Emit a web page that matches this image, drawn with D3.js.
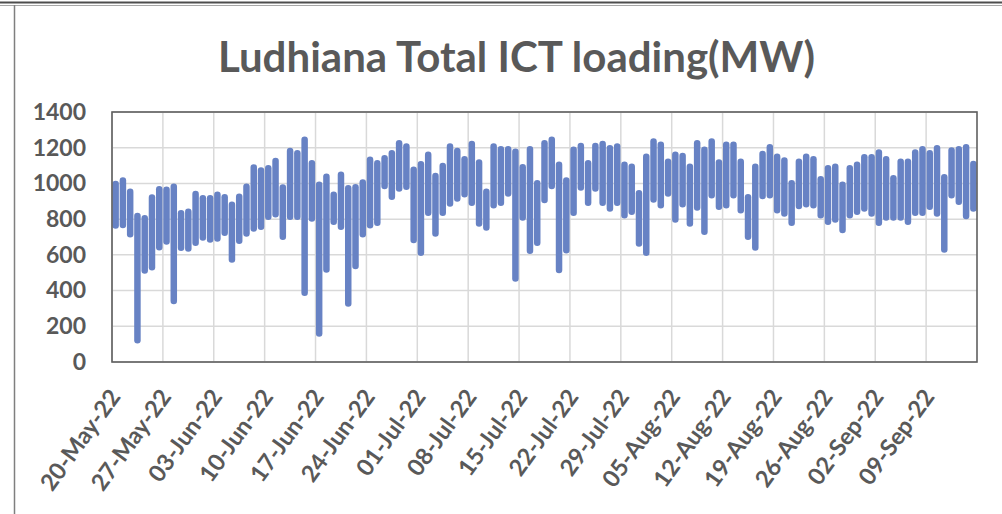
<!DOCTYPE html>
<html>
<head>
<meta charset="utf-8">
<script src="https://cdn.jsdelivr.net/npm/d3@7"></script>
<style>
  html, body { margin: 0; padding: 0; background: #ffffff; }
  svg { display: block; }
</style>
</head>
<body>
<svg id="chart" width="1002" height="514"></svg>
<script>
// ---------------- data ----------------
const chartTitle = "Ludhiana Total ICT loading(MW)";
const firstDay = "2022-05-20";
// daily maximum loading (MW), one value per day from 20-May-22
const dayMax = [
  997, 1016, 954, 818, 805, 921, 968, 964, 982, 833,
  842, 941, 917, 917, 936, 923, 880, 926, 982, 1089,
  1072, 1085, 1126, 977, 1182, 1169, 1244, 1113, 992, 1038,
  936, 1048, 973, 979, 1005, 1132, 1113, 1141, 1169, 1225,
  1207, 1076, 1108, 1160, 1042, 1098, 1207, 1182, 1136, 1221,
  1117, 954, 1207, 1192, 1192, 1178, 1091, 1192, 1001, 1225,
  1244, 1104, 1016, 1188, 1210, 1113, 1210, 1221, 1197, 1207,
  1104, 1094, 945, 1150, 1235, 1216, 1122, 1160, 1154, 1094,
  1225, 1188, 1235, 1117, 1216, 1216, 1122, 923, 1094, 1165,
  1203, 1150, 1128, 1001, 1122, 1150, 1136, 1024, 1085, 1094,
  992, 1085, 1104, 1147, 1147, 1173, 1136, 1029, 1122, 1122,
  1173, 1192, 1169, 1197, 1035, 1184, 1192, 1203, 1109
];
// daily minimum loading (MW)
const dayMin = [
  765, 767, 716, 122, 512, 531, 643, 675, 342, 640,
  636, 668, 697, 686, 692, 724, 574, 679, 720, 748,
  757, 813, 828, 701, 813, 813, 388, 804, 160, 518,
  785, 757, 328, 537, 716, 766, 780, 985, 925, 972,
  981, 683, 612, 836, 720, 836, 888, 916, 940, 892,
  776, 753, 878, 892, 944, 468, 809, 623, 668, 907,
  985, 515, 626, 836, 977, 892, 972, 892, 860, 892,
  822, 841, 664, 612, 910, 878, 944, 798, 884, 776,
  865, 729, 934, 869, 878, 934, 850, 701, 641, 929,
  934, 850, 832, 780, 873, 884, 878, 822, 785, 798,
  739, 822, 841, 860, 832, 780, 809, 809, 809, 785,
  836, 836, 869, 832, 630, 934, 897, 817, 860
];
const yTicks = [0, 200, 400, 600, 800, 1000, 1200, 1400];
const xTickLabels = [
  "20-May-22", "27-May-22", "03-Jun-22", "10-Jun-22", "17-Jun-22",
  "24-Jun-22", "01-Jul-22", "08-Jul-22", "15-Jul-22", "22-Jul-22",
  "29-Jul-22", "05-Aug-22", "12-Aug-22", "19-Aug-22", "26-Aug-22",
  "02-Sep-22", "09-Sep-22"
];

// ---------------- layout ----------------
const svg = d3.select("#chart");
const plot = { left: 112, right: 977, top: 112, bottom: 362 };
const DAY = 86400000;
const start = new Date(firstDay + "T00:00:00Z");
const end = new Date(start.getTime() + dayMax.length * DAY);

const x = d3.scaleUtc().domain([start, end]).range([plot.left, plot.right]);
const y = d3.scaleLinear().domain([0, 1400]).range([plot.bottom, plot.top]);

const parseTick = d3.utcParse("%d-%b-%y");
const tickDates = xTickLabels.map(s => parseTick(s));

const grey = "#595959";
const lineColor = "#6782c4";

// outer frame decorations
svg.append("line").attr("x1", 0).attr("x2", 1002).attr("y1", 2.5).attr("y2", 2.5)
  .attr("stroke", "#4d4d4d").attr("stroke-width", 2);
svg.append("line").attr("x1", 0).attr("x2", 1002).attr("y1", 5.5).attr("y2", 5.5)
  .attr("stroke", "#a6a6a6").attr("stroke-width", 1);
svg.append("line").attr("x1", 14.5).attr("x2", 14.5).attr("y1", 5).attr("y2", 514)
  .attr("stroke", "#7f7f7f").attr("stroke-width", 1.5);

// title
svg.append("text")
  .attr("x", 218).attr("y", 72)
  .attr("textLength", 597).attr("lengthAdjust", "spacingAndGlyphs")
  .attr("font-family", "Lato, 'Open Sans', sans-serif")
  .attr("font-weight", "bold").attr("font-size", 42)
  .attr("fill", grey)
  .text(chartTitle);

// gridlines
const grid = svg.append("g");
grid.selectAll("line.h").data(yTicks).enter().append("line")
  .attr("x1", plot.left).attr("x2", plot.right)
  .attr("y1", d => y(d)).attr("y2", d => y(d))
  .attr("stroke", "#d9d9d9").attr("stroke-width", 1.5);
grid.selectAll("line.v").data(tickDates).enter().append("line")
  .attr("x1", d => x(d)).attr("x2", d => x(d))
  .attr("y1", plot.top).attr("y2", plot.bottom)
  .attr("stroke", "#d9d9d9").attr("stroke-width", 1.5);

// series: one stroke per day from its minimum to its maximum
const line = d3.line().x(d => x(d.t)).y(d => y(d.v));
const days = dayMax.map((mx, i) => {
  const t = new Date(start.getTime() + i * DAY + DAY / 2);
  return [{ t, v: dayMin[i] }, { t, v: mx }];
});
svg.append("g").selectAll("path").data(days).enter().append("path")
  .attr("d", line)
  .attr("fill", "none")
  .attr("stroke", lineColor)
  .attr("stroke-width", 6.5)
  .attr("stroke-linecap", "round")
  .attr("stroke-linejoin", "round");

// plot border
svg.append("rect")
  .attr("x", plot.left).attr("y", plot.top)
  .attr("width", plot.right - plot.left).attr("height", plot.bottom - plot.top)
  .attr("fill", "none").attr("stroke", "#5f5f5f").attr("stroke-width", 1.6);

// y axis labels
const yAxis = d3.axisLeft(y).tickValues(yTicks).tickFormat(d3.format("d"))
  .tickSize(0).tickPadding(26);
const yg = svg.append("g").attr("transform", `translate(${plot.left},0)`).call(yAxis);
yg.select(".domain").remove();
yg.selectAll("text")
  .attr("font-family", "Lato, 'Open Sans', sans-serif")
  .attr("font-weight", "bold").attr("font-size", 23)
  .attr("fill", grey);

// x axis labels
const xAxis = d3.axisBottom(x).tickValues(tickDates)
  .tickFormat((d, i) => xTickLabels[i]).tickSize(0);
const xg = svg.append("g").attr("transform", `translate(0,${plot.bottom})`).call(xAxis);
xg.select(".domain").remove();
xg.selectAll("text")
  .attr("font-family", "Lato, 'Open Sans', sans-serif")
  .attr("font-weight", "bold").attr("font-size", 23.5)
  .attr("fill", grey)
  .attr("text-anchor", "end")
  .attr("dy", null)
  .attr("y", 0)
  .attr("transform", "translate(9,35) rotate(-54)");
</script>
</body>
</html>
